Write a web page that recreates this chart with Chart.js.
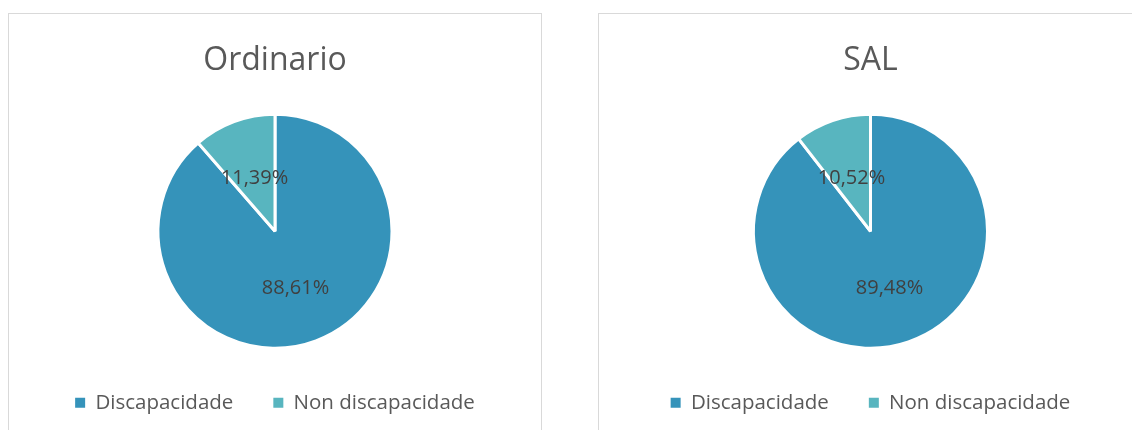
<!DOCTYPE html>
<html>
<head>
<meta charset="utf-8">
<script src="https://cdn.jsdelivr.net/npm/chart.js@4.4.0/dist/chart.umd.min.js"></script>
<style>
  html, body { margin: 0; padding: 0; background: #fff; }
  body { width: 1132px; height: 430px; overflow: hidden; position: relative; }
  .panel { position: absolute; top: 13px; height: 430px; border: 1px solid #D9D9D9; background: #fff; }
  #p1 { left: 8px; width: 532px; }
  #p2 { left: 598px; width: 543px; }
  canvas { display: block; }
</style>
</head>
<body>
<div class="panel" id="p1"><canvas id="c1" width="532" height="417"></canvas></div>
<div class="panel" id="p2"><canvas id="c2" width="543" height="417"></canvas></div>
<script>
const categories = ["Discapacidade", "Non discapacidade"];
const ordinarioValues = [88.61, 11.39];
const salValues = [89.48, 10.52];
const titles = ["Ordinario", "SAL"];
const colors = ["#3593BA", "#58B5BF"];

const labelPlugin = {
  id: 'sliceLabels',
  afterDatasetsDraw(chart) {
    const ctx = chart.ctx;
    const meta = chart.getDatasetMeta(0);
    const data = chart.data.datasets[0].data;
    ctx.save();
    ctx.font = '20px "Open Sans"';
    ctx.fillStyle = '#404040';
    ctx.textAlign = 'center';
    ctx.textBaseline = 'middle';
    meta.data.forEach((arc, i) => {
      const p = arc.getProps(['x', 'y', 'startAngle', 'endAngle', 'outerRadius'], true);
      const mid = (p.startAngle + p.endAngle) / 2;
      const r = p.outerRadius * 0.5;
      const txt = data[i].toFixed(2).replace('.', ',') + '%';
      ctx.fillText(txt, p.x + Math.cos(mid) * r, p.y + Math.sin(mid) * r + 2);
    });
    ctx.restore();
  }
};

function makeChart(id, values, title) {
  new Chart(document.getElementById(id), {
    type: 'pie',
    data: {
      labels: categories,
      datasets: [{
        data: values,
        backgroundColor: colors,
        borderColor: '#ffffff',
        borderWidth: 3
      }]
    },
    options: {
      responsive: false,
      animation: false,
      events: [],
      radius: 117,
      layout: { padding: { top: 0, bottom: 8, left: 0, right: 0 } },
      plugins: {
        title: {
          display: true,
          text: title,
          color: '#595959',
          font: { family: 'Open Sans', size: 32, weight: 'normal' },
          padding: { top: 28, bottom: 29.6 }
        },
        legend: {
          display: true,
          position: 'bottom',
          labels: {
            color: '#595959',
            font: { family: 'Open Sans', size: 20.5 },
            boxWidth: 10,
            boxHeight: 10,
            padding: 40,
            generateLabels(chart) {
              const ds = chart.data.datasets[0];
              return chart.data.labels.map((t, i) => ({
                text: t,
                fillStyle: ds.backgroundColor[i],
                strokeStyle: ds.backgroundColor[i],
                lineWidth: 0,
                fontColor: '#595959',
                hidden: false,
                index: i
              }));
            }
          }
        },
        tooltip: { enabled: false }
      }
    },
    plugins: [labelPlugin]
  });
}

makeChart('c1', ordinarioValues, titles[0]);
makeChart('c2', salValues, titles[1]);
</script>
</body>
</html>
